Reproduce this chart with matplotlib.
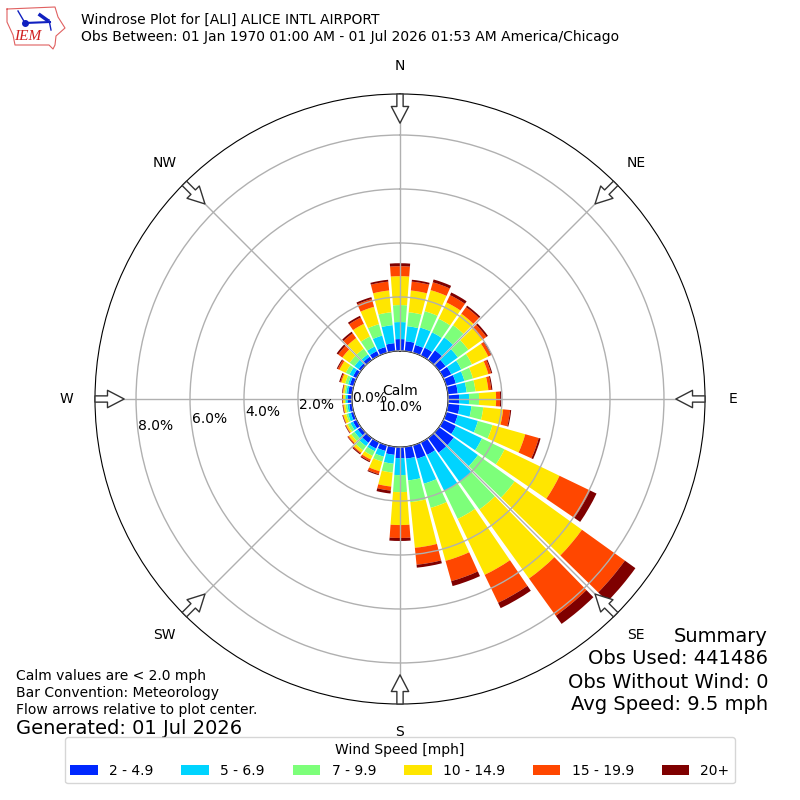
"""
Windrose plot for ALI, IEM style layout.
"""
import numpy as np
import matplotlib
matplotlib.use("Agg")
import matplotlib.pyplot as plt

DIRECTIONS = list(range(0, 360, 10))
SPEED_LABELS = ["2 - 4.9", "5 - 6.9", "7 - 9.9", "10 - 14.9", "15 - 19.9", "20+"]
COLORS = ["#0028ff", "#00d4ff", "#7dff7a", "#ffe600", "#ff4700", "#7f0000"]

# percent of obs per direction bin, one list per speed class
speed_2_5 = [.44, .37, .30, .33, .44, .30, .33, .37, .37, .41, .44, .44,
             .52, .67, .67, .52, .52, .44, .41, .30, .22, .26, .22, .15,
             .15, .11, .11, .15, .15, .15, .15, .11, .15, .19, .22, .30]
speed_5_7 = [.63, .56, .67, .63, .59, .56, .41, .33, .33, .37, .44, .78,
             1.07, 1.11, 1.33, 1.48, .96, .81, .63, .33, .22, .11, .15, .15,
             .11, .11, .07, .07, .07, .07, .15, .19, .11, .19, .44, .67]
speed_7_10 = [.63, .52, .63, .56, .56, .48, .44, .33, .33, .37, .44, .56,
              .93, 1.67, 1.26, 1.15, .93, .81, .63, .33, .19, .19, .19, .15,
              .11, .07, .07, .04, .06, .11, .15, .22, .26, .41, .44, .48]
speed_10_15 = [1.07, .81, .81, .67, .52, .63, .67, .59, .48, .63, .74, 1.26,
               2.26, 3.07, 3.15, 2.30, 2.04, 1.70, 1.22, .52, .37, .15, .11, .11,
               .07, .11, .07, .07, .06, .15, .26, .33, .48, .52, .67, .81]
speed_15_20 = [.37, .33, .30, .30, .30, .19, .11, .11, .11, .15, .26, .52,
               1.26, 1.96, 1.70, 1.15, .78, .63, .48, .15, .11, .07, .04, .04,
               .02, .02, .02, .02, .02, .04, .07, .19, .22, .26, .30, .33]
speed_20 = [.11, .07, .11, .11, .07, .07, .04, .04, .04, .04, .04, .07,
            .26, .48, .37, .22, .19, .11, .11, .11, .04, .04, .04, .02,
            .02, .02, .02, .02, .02, .04, .04, .07, .07, .07, .07, .07]
SERIES = [speed_2_5, speed_5_7, speed_7_10, speed_10_15, speed_15_20, speed_20]

RTICKS = [0, 2, 4, 6, 8]
RTICK_LABELS = ["0.0%", "2.0%", "4.0%", "6.0%", "8.0%"]
COMPASS = ["N", "NE", "E", "SE", "S", "SW", "W", "NW"]
COMPASS_DEG = [0, 45, 90, 135, 180, 225, 270, 315]
SUMMARY = ["Summary", "Obs Used: 441486", "Obs Without Wind: 0", "Avg Speed: 9.5 mph"]

fig = plt.figure(figsize=(8, 8), dpi=100)
ax = fig.add_axes([95 / 800, 96 / 800, 610 / 800, 610 / 800], projection="polar")
ax.set_theta_zero_location("N")
ax.set_theta_direction(-1)

theta = np.radians(DIRECTIONS)
bottom = np.zeros(len(DIRECTIONS))
bars = []
for vals, color, label in zip(SERIES, COLORS, SPEED_LABELS):
    b = ax.bar(theta, vals, width=np.radians(8.6), bottom=bottom, color=color,
               label=label, linewidth=0, zorder=1)
    bars.append(b)
    bottom += np.array(vals)

ax.set_rlim(0, 9.52)
ax.set_rorigin(-1.78)
ax.set_axisbelow(False)
ax.set_rgrids(RTICKS, RTICK_LABELS, angle=262.5, fontsize=10)
ax.set_thetagrids(COMPASS_DEG, COMPASS, fontsize=10)
ax.tick_params(axis="x", pad=10)
ax.grid(True, color="#b0b0b0", lw=1)

# flow arrows, rim towards center
for deg in COMPASS_DEG:
    ax.annotate("", xy=(np.radians(deg), 8.44), xytext=(np.radians(deg), 9.52),
                arrowprops=dict(facecolor="white", edgecolor="#333333", lw=1,
                                width=4.5, headwidth=12.5, headlength=12, shrink=0),
                zorder=6, annotation_clip=False)

ax.text(0.5, 0.5, "Calm\n10.0%", transform=ax.transAxes, ha="center", va="center", fontsize=10)

fig.text(81 / 800, 1 - 20 / 800, "Windrose Plot for [ALI] ALICE INTL AIRPORT", fontsize=10, va="center")
fig.text(81 / 800, 1 - 37 / 800, "Obs Between: 01 Jan 1970 01:00 AM - 01 Jul 2026 01:53 AM America/Chicago",
         fontsize=10, va="center")

for i, line in enumerate(SUMMARY):
    fig.text(768 / 800, 1 - (636 + i * 23) / 800, line, fontsize=14, ha="right", va="center")

fig.text(16 / 800, 1 - 676 / 800, "Calm values are < 2.0 mph", fontsize=10, va="center")
fig.text(16 / 800, 1 - 693 / 800, "Bar Convention: Meteorology", fontsize=10, va="center")
fig.text(16 / 800, 1 - 710 / 800, "Flow arrows relative to plot center.", fontsize=10, va="center")
fig.text(16 / 800, 1 - 729 / 800, "Generated: 01 Jul 2026", fontsize=14, va="center")

fig.legend(handles=[b[0] for b in bars], labels=SPEED_LABELS, title="Wind Speed [mph]",
           ncol=6, loc="lower center", bbox_to_anchor=(0.5, 0.012), fontsize=10, title_fontsize=10)

# IEM logo, drawn in pixel coords
logo = fig.add_axes([0, 0, 1, 1], facecolor="none")
logo.set_xlim(0, 800)
logo.set_ylim(800, 0)
logo.axis("off")
iowa_x = [7, 55, 58, 65, 56, 55, 53, 49, 15, 13, 7, 7]
iowa_y = [9, 7, 17, 28, 36, 45, 49, 45, 45, 35, 22, 9]
logo.plot(iowa_x, iowa_y, color="#e06060", lw=0.8)
logo.plot([25, 50], [23, 22], color="#1020c0", lw=1.5)
logo.plot([18, 25], [11, 23], color="#1020c0", lw=1)
logo.plot([40, 47], [15, 20], color="#1020c0", lw=2.5)
logo.plot([49, 51], [20, 30], color="#1020c0", lw=1)
logo.plot([25], [23], marker="o", ms=4, color="#1020c0")
logo.text(28, 37, "IEM", color="#d02020", fontsize=11, family="Liberation Serif", style="italic",
          ha="center", va="center")

fig.savefig("out.png", dpi=100)
